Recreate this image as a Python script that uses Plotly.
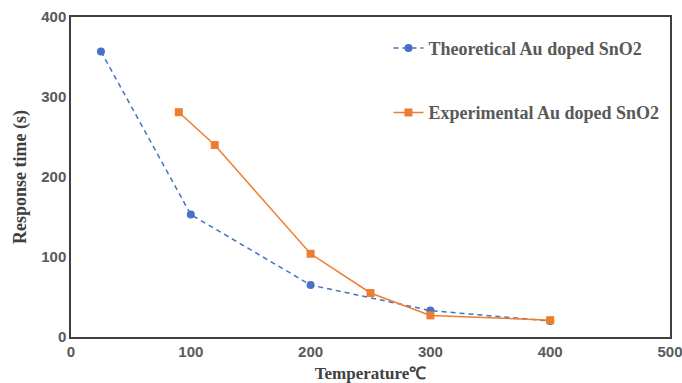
import plotly.graph_objects as go

theo_x = [25, 100, 200, 300, 400]
theo_y = [357, 153, 65, 33, 20]
exp_x = [90, 120, 200, 250, 300, 400]
exp_y = [281, 240, 104, 55, 27, 21]

x_ticks = [0, 100, 200, 300, 400, 500]
y_ticks = [0, 100, 200, 300, 400]

fig = go.Figure()
fig.add_trace(go.Scatter(
    x=theo_x, y=theo_y, mode="lines+markers",
    name="Theoretical Au doped SnO2", legendgroup="a",
    line=dict(color="#4472C4", width=1.5, dash="5px,4px"),
    marker=dict(symbol="circle", size=8, color="#4472C4"),
))
fig.add_trace(go.Scatter(
    x=exp_x, y=exp_y, mode="lines+markers",
    name="Experimental Au doped SnO2", legendgroup="b",
    line=dict(color="#ED7D31", width=1.5),
    marker=dict(symbol="square", size=8, color="#ED7D31"),
))

fig.update_layout(
    width=682, height=383,
    margin=dict(l=71, r=12, t=17, b=46),
    paper_bgcolor="white", plot_bgcolor="white",
    legend=dict(
        x=0.53, y=0.96, xanchor="left", yanchor="top",
        font=dict(family="Liberation Serif", size=18, color="#595959", weight="bold"),
        tracegroupgap=38, bgcolor="rgba(0,0,0,0)", itemwidth=30,
    ),
    xaxis=dict(
        range=[0, 500], tickvals=x_ticks, ticktext=[str(v) for v in x_ticks],
        showgrid=False, zeroline=False, automargin=False, ticklabeloverflow="allow",
        showline=True, linecolor="#404040", linewidth=1.5, mirror=True,
        ticks="", tickfont=dict(family="Liberation Sans", size=15, color="#595959", weight="bold"),
        title=dict(text="Temperature℃", standoff=9,
                   font=dict(family="Liberation Serif", size=17, color="#404040", weight="bold")),
    ),
    yaxis=dict(
        range=[0, 400], tickvals=y_ticks, ticktext=[str(v) for v in y_ticks],
        showgrid=False, zeroline=False, automargin=False, ticklabeloverflow="allow",
        showline=True, linecolor="#404040", linewidth=1.5, mirror=True,
        ticks="", tickfont=dict(family="Liberation Sans", size=15, color="#595959", weight="bold"),
        title=dict(text="Response time (s)", standoff=10,
                   font=dict(family="Liberation Serif", size=18, color="#404040", weight="bold")),
    ),
)

fig.write_html(
    "out.html",
    config={"displayModeBar": False},
    post_script="document.body.style.margin='0';document.body.style.overflow='hidden';",
)
